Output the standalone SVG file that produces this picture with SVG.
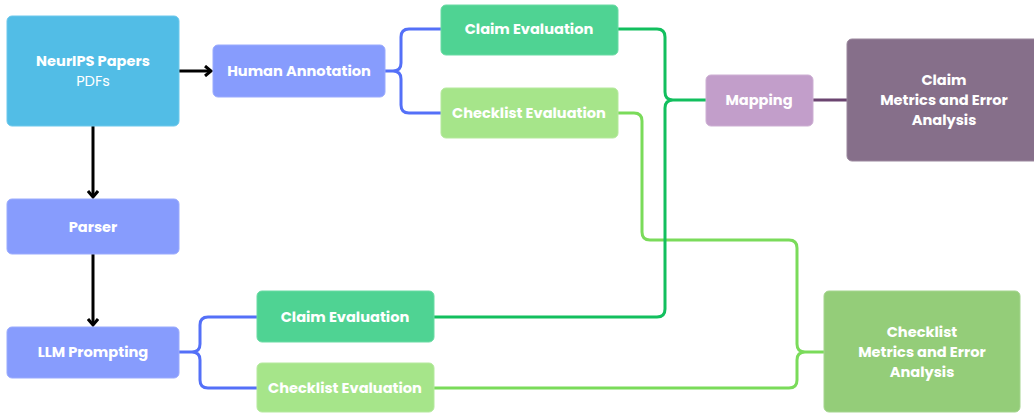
<svg xmlns="http://www.w3.org/2000/svg" width="1034" height="413" viewBox="0 0 1034 413">
<defs>
<marker id="arr" markerWidth="10" markerHeight="12" refX="7" refY="6" orient="auto" markerUnits="userSpaceOnUse">
<path d="M1,1 L7,6 L1,11" fill="none" stroke="#000" stroke-width="3" stroke-linejoin="miter"/>
</marker>
</defs>
<style>
.n{stroke-width:1;}
.t{font-family:Poppins,Inter,"Open Sans","Liberation Sans",sans-serif;font-weight:700;font-size:14.6px;fill:#fff;text-anchor:middle;dominant-baseline:central;}
.r{font-weight:400;}
.c{fill:none;stroke-width:3;stroke-linecap:round;stroke-linejoin:round;}
.blue{stroke:#5470F8;}
.dg{stroke:#12BF5E;}
.lg{stroke:#7ADB5A;}
.pu{stroke:#6B4470;}
.bk{stroke:#000;stroke-linecap:butt;}
</style>
<rect width="1034" height="413" fill="#fff"/>
<g id="connectors">
<path class="c bk" d="M179,71 H211" marker-end="url(#arr)"/>
<path class="c bk" d="M93,126 V197" marker-end="url(#arr)"/>
<path class="c bk" d="M93,254 V325" marker-end="url(#arr)"/>
<path class="c blue" d="M385,71 H393 Q401,71 401,63 V37 Q401,29 409,29 H441 M393,71 Q401,71 401,79 V105 Q401,113 409,113 H441"/>
<path class="c blue" d="M179,352 H192 Q200,352 200,344 V325 Q200,317 208,317 H257 M192,352 Q200,352 200,360 V380 Q200,388 208,388 H257"/>
<path class="c lg" d="M618,113 H634 Q642,113 642,121 V232 Q642,240 650,240 H789 Q797,240 797,248 V344 Q797,352 805,352 H825 M434,388 H789 Q797,388 797,380 V360 Q797,352 805,352"/>
<path class="c dg" d="M618,29 H657 Q665,29 665,37 V92 Q665,100 673,100 H706 M434,317 H657 Q665,317 665,309 V108 Q665,100 673,100"/>
<path class="c pu" d="M813,100 H847"/>
</g>
<g id="neurips">
<rect x="7" y="16" width="172" height="110" rx="5" fill="#52BDE6" stroke="#6CC8EC"/>
<text class="t" x="93" y="61">NeurIPS Papers</text>
<text class="t r" x="93" y="81">PDFs</text>
</g>
<g id="human">
<rect x="213" y="45" width="172" height="52" rx="5" fill="#879CFD" stroke="#9AABFD"/>
<text class="t" x="299" y="71">Human Annotation</text>
</g>
<g id="parser">
<rect x="7" y="199" width="172" height="55" rx="5" fill="#879CFD" stroke="#9AABFD"/>
<text class="t" x="93" y="227">Parser</text>
</g>
<g id="llm">
<rect x="7" y="327" width="172" height="51" rx="5" fill="#879CFD" stroke="#9AABFD"/>
<text class="t" x="93" y="352">LLM Prompting</text>
</g>
<g id="claim-top">
<rect x="441" y="5" width="177" height="50" rx="5" fill="#4FD393" stroke="#6ADBA4"/>
<text class="t" x="529" y="29">Claim Evaluation</text>
</g>
<g id="check-top">
<rect x="441" y="88" width="177" height="50" rx="5" fill="#A6E58A" stroke="#B5E99D"/>
<text class="t" x="529" y="113">Checklist Evaluation</text>
</g>
<g id="claim-bot">
<rect x="257" y="291" width="177" height="51" rx="5" fill="#4FD393" stroke="#6ADBA4"/>
<text class="t" x="345" y="317">Claim Evaluation</text>
</g>
<g id="check-bot">
<rect x="257" y="363" width="177" height="49" rx="5" fill="#A6E58A" stroke="#B5E99D"/>
<text class="t" x="345" y="388">Checklist Evaluation</text>
</g>
<g id="mapping">
<rect x="706" y="75" width="107" height="51" rx="5" fill="#C29ECA" stroke="#CDAFD3"/>
<text class="t" x="759" y="100">Mapping</text>
</g>
<g id="claim-metrics">
<rect x="847" y="39" width="192" height="122" rx="5" fill="#866F8A" stroke="#9A879D"/>
<text class="t" x="944" y="80">Claim</text>
<text class="t" x="944" y="100">Metrics and Error</text>
<text class="t" x="944" y="120">Analysis</text>
</g>
<g id="check-metrics">
<rect x="824" y="291" width="196" height="121" rx="5" fill="#94CD79" stroke="#A5D58F"/>
<text class="t" x="922" y="332">Checklist</text>
<text class="t" x="922" y="352">Metrics and Error</text>
<text class="t" x="922" y="372">Analysis</text>
</g>
</svg>
